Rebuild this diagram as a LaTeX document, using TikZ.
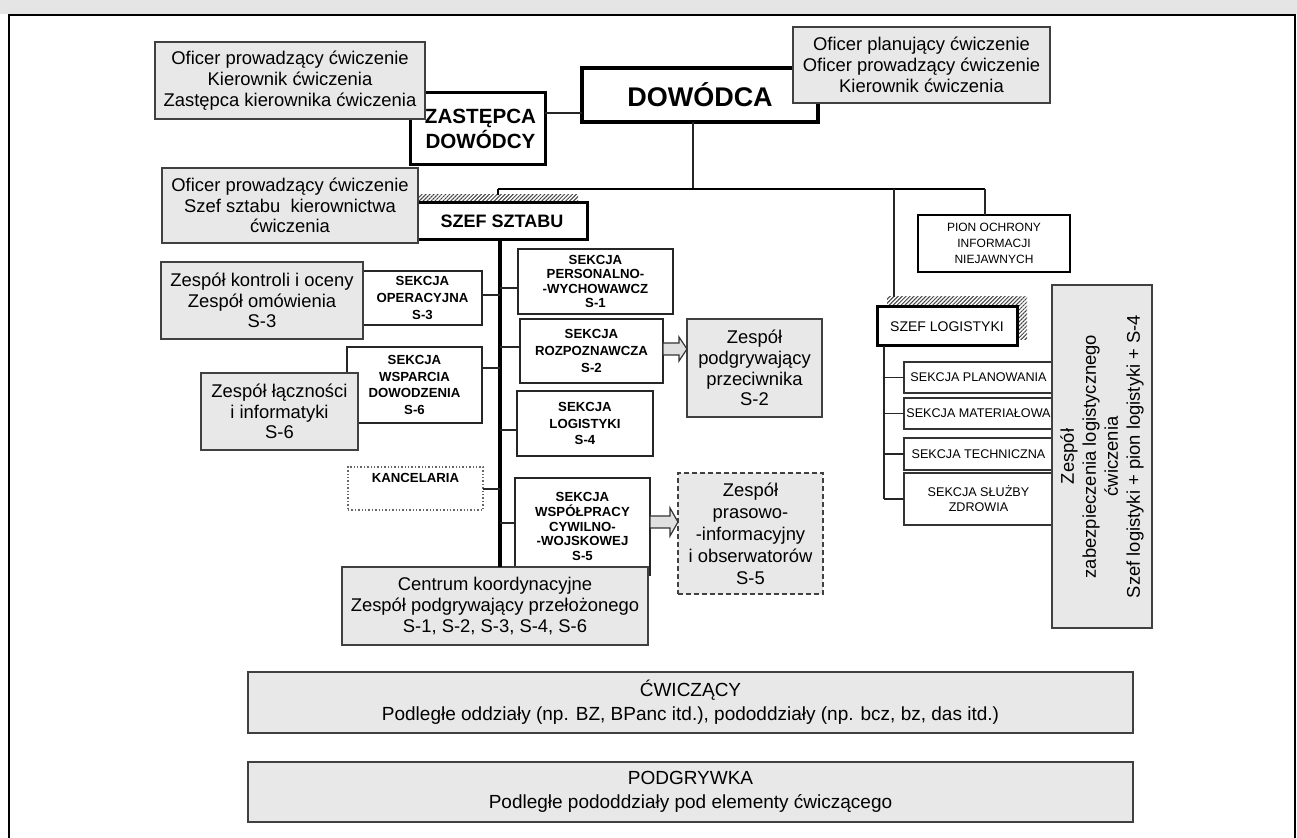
\documentclass[tikz,border=0pt]{standalone}
\usepackage{fontspec}
\setmainfont{Liberation Sans}
\usetikzlibrary{calc,patterns.meta}

% box from top-left (x1,y1) to bottom-right (x2,y2), in pixel units
\newcommand{\boxnode}[7]{%
  \node[#1, anchor=north west, inner sep=0pt, outer sep=0pt,
        minimum width={(#5-#3)*0.5pt}, minimum height={(#6-#4)*0.5pt}]
        (#2) at (#3,#4) {#7};}

\tikzset{
  graybox/.style={draw=black!75, line width=0.7pt, fill=black!9, align=center,
                  font=\fontsize{9.2}{10.4}\selectfont},
  secbox/.style={draw=black!85, line width=0.7pt, fill=white, align=center,
                 font=\bfseries\fontsize{6.6}{8.3}\selectfont},
  bossbox/.style={draw=black, line width=1.5pt, fill=white, align=center},
  listbox/.style={draw=black!80, line width=0.6pt, fill=white, align=center,
                  font=\fontsize{6.3}{7.6}\selectfont},
  link/.style={draw=black!85, line width=0.6pt},
  bus/.style={draw=black, line width=1.4pt},
  spine/.style={draw=black, line width=2pt},
  hatch/.style={pattern={Lines[angle=45,distance=1.4pt,line width=0.5pt]},
                pattern color=black!75},
  hollowarrow/.style={draw=black!80, line width=0.6pt, fill=black!12},
}

\begin{document}
\begin{tikzpicture}[x=0.5pt,y=-0.5pt]
\useasboundingbox (0,0) rectangle (1297,838);

% scanned strip above the frame and the frame itself
\fill[black!10] (0,0) rectangle (1297,14);
\draw[line width=1.1pt] (9,850) -- (9,15) -- (1295,15) -- (1295,850);

% ---------- command level ----------
\boxnode{bossbox, font=\bfseries\fontsize{10.3}{10.6}\selectfont}{zast}{410}{93}{545}{165}{\hspace*{3pt}ZASTĘPCA\\\hspace*{3pt}DOWÓDCY}
\boxnode{graybox}{okz}{155}{42}{425}{119}{Oficer prowadzący ćwiczenie\\Kierownik ćwiczenia\\Zastępca kierownika ćwiczenia}
\boxnode{bossbox, line width=1.8pt, font=\bfseries\fontsize{13.5}{14}\selectfont}{dow}{582}{68}{818}{122}{DOWÓDCA}
\boxnode{graybox}{opk}{793}{27}{1050}{103}{Oficer planujący ćwiczenie\\Oficer prowadzący ćwiczenie\\Kierownik ćwiczenia}

\draw[link] (zast.east |- 0,113) -- (dow.west |- 0,113);

% main bus under the commander
\coordinate (busL) at (498,189);
\coordinate (busM) at (894,189);
\coordinate (busR) at (985,189);
\draw[link] ([xshift=-3.5pt]dow.south) -- ([xshift=-3.5pt]dow.south |- busL);
\draw[bus] (busL) -- (busR);

% ---------- chief of staff ----------
\fill[hatch] (418,195) rectangle (578,210);
\boxnode{bossbox, font=\bfseries\fontsize{9}{10}\selectfont}{szs}{417}{203}{587}{240}{SZEF SZTABU}
\boxnode{graybox}{ops}{162}{168}{418}{243}{Oficer prowadzący ćwiczenie\\Szef sztabu\ \ kierownictwa\\ćwiczenia}
\draw[bus] (busL) -- (busL |- 0,195);

% staff sections, left of the spine
\boxnode{secbox, font=\bfseries\fontsize{6.6}{8.5}\selectfont}{sop}{363}{271}{482}{325}{SEKCJA\\OPERACYJNA\\S-3}
\boxnode{graybox}{zko}{161}{262}{363}{339}{Zespół kontroli i oceny\\Zespół omówienia\\S-3}
\boxnode{secbox}{swd}{347}{347}{482}{423}{SEKCJA\\WSPARCIA\\DOWODZENIA\\S-6}
\boxnode{graybox}{zli}{201}{373}{358}{450}{Zespół łączności\\i informatyki\\S-6}
\boxnode{secbox, draw=black!60, densely dotted, line width=0.6pt}{kanc}{348}{467}{483}{510}{KANCELARIA\\\strut}

% staff sections, right of the spine
\boxnode{secbox, font=\bfseries\fontsize{6.6}{7.3}\selectfont}{spw}{518}{249}{673}{314}{SEKCJA\\PERSONALNO-\\-WYCHOWAWCZ\\S-1}
\boxnode{secbox}{srz}{520}{319}{663}{383}{SEKCJA\\ROZPOZNAWCZA\\S-2}
\boxnode{graybox}{zpp}{687}{319}{822}{417}{Zespół\\podgrywający\\przeciwnika\\S-2}
\boxnode{secbox}{slog}{517}{391}{653}{456}{SEKCJA\\LOGISTYKI\\S-4}
\boxnode{secbox, font=\bfseries\fontsize{6.6}{7.3}\selectfont}{swc}{515}{478}{650}{575}{SEKCJA\\WSPÓŁPRACY\\CYWILNO-\\-WOJSKOWEJ\\S-5}
\boxnode{graybox, dashed, dash pattern=on 2.5pt off 1.5pt, font=\fontsize{9.2}{11}\selectfont}{zpi}{678}{473}{823}{594}{Zespół\\prasowo-\\-informacyjny\\i obserwatorów\\S-5}
\boxnode{graybox}{ckz}{342}{567}{648}{645}{Centrum koordynacyjne\\Zespół podgrywający przełożonego\\S-1, S-2, S-3, S-4, S-6}

% spine of the staff and its branches
\coordinate (sp) at (500,0);
\draw[spine] (szs.south -| sp) -- (ckz.north -| sp);
\draw[link] (sop.east |- 0,295) -- (sp |- 0,295);
\draw[link] (swd.east |- 0,368) -- (sp |- 0,368);
\draw[link] (kanc.east |- 0,489) -- (sp |- 0,489);
\draw[link] (sp |- 0,288) -- (spw.west |- 0,288);
\draw[link] (sp |- 0,347) -- (srz.west |- 0,347);
\draw[link] (sp |- 0,430) -- (slog.west |- 0,430);
\draw[link] (sp |- 0,523) -- (swc.west |- 0,523);

% hollow arrows towards the role-play teams
\path (srz.east |- 0,349) coordinate (a1) (zpp.west |- 0,349) coordinate (a2);
\draw[hollowarrow] ($(a1)+(0,-6)$) -- ($(a2)+(-8,-6)$) -- ($(a2)+(-8,-12)$) -- (a2)
   -- ($(a2)+(-8,12)$) -- ($(a2)+(-8,6)$) -- ($(a1)+(0,6)$) -- cycle;
\path (swc.east |- 0,522) coordinate (b1) (zpi.west |- 0,522) coordinate (b2);
\draw[hollowarrow] ($(b1)+(0,-6)$) -- ($(b2)+(-8,-6)$) -- ($(b2)+(-8,-14)$) -- (b2)
   -- ($(b2)+(-8,14)$) -- ($(b2)+(-8,6)$) -- ($(b1)+(0,6)$) -- cycle;

% ---------- classified information and logistics ----------
\boxnode{bossbox, line width=1.3pt, font=\fontsize{6}{8}\selectfont}{pion}{918}{215}{1070}{272}{PION OCHRONY\\INFORMACJI\\NIEJAWNYCH}
\draw[link] (busR) -- (busR |- pion.north);

\fill[hatch] (887,297) rectangle (1027,340);
\boxnode{bossbox, font=\fontsize{7}{8}\selectfont}{slg}{877}{307}{1017}{346}{SZEF LOGISTYKI}
\draw[link] (busM) -- (busM |- 0,297);

\boxnode{listbox}{sl1}{904}{362}{1053}{393}{SEKCJA PLANOWANIA}
\boxnode{listbox}{sl2}{904}{398}{1053}{429}{SEKCJA MATERIAŁOWA}
\boxnode{listbox}{sl3}{904}{438}{1053}{470}{SEKCJA TECHNICZNA}
\boxnode{listbox}{sl4}{904}{473}{1053}{525}{SEKCJA SŁUŻBY\\ZDROWIA}

\coordinate (tr) at (884,0);
\draw[link] (slg.south -| tr) -- (tr |- sl4.west);
\foreach \s in {sl1,sl2,sl3,sl4} \draw[link] (tr |- \s.west) -- (\s.west);

\node[graybox, rotate=90, inner sep=0pt, minimum width=171.5pt, minimum height=50pt,
      font=\fontsize{9.2}{11}\selectfont] (zzl) at (1102,456.5)
      {Zespół\\zabezpieczenia logistycznego\\ćwiczenia\\Szef logistyki + pion logistyki + S-4};

% ---------- exercising units and role-play ----------
\boxnode{graybox, font=\fontsize{9.5}{12}\selectfont}{cwi}{248}{672}{1133}{733}{ĆWICZĄCY\\Podległe oddziały (np. BZ, BPanc itd.), pododdziały (np. bcz, bz, das itd.)}
\boxnode{graybox, font=\fontsize{9.5}{12}\selectfont}{pod}{248}{762}{1133}{822}{PODGRYWKA\\Podległe pododdziały pod elementy ćwiczącego}

\end{tikzpicture}
\end{document}
